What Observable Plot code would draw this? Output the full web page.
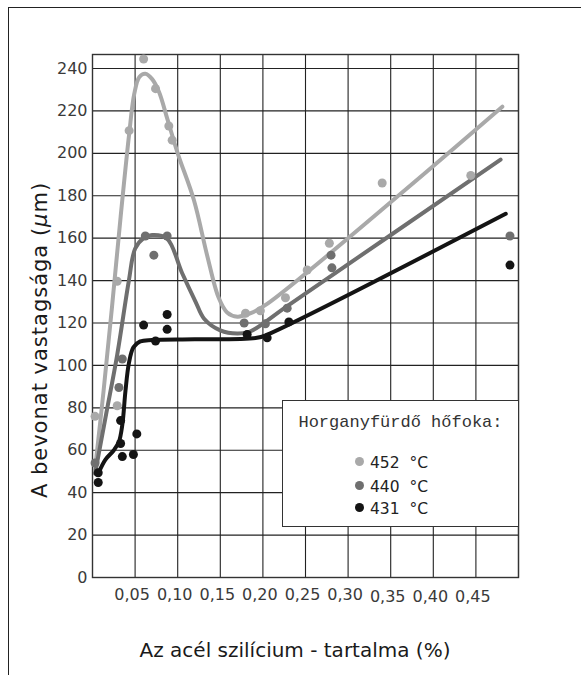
<!DOCTYPE html>
<html>
<head>
<meta charset="utf-8">
<script src="https://cdn.jsdelivr.net/npm/d3@7"></script>
<script src="https://cdn.jsdelivr.net/npm/@observablehq/plot@0.6"></script>
<style>
  html, body { margin: 0; padding: 0; background: #fff; }
  #wrap { position: relative; width: 581px; height: 675px; overflow: hidden; font-family: "DejaVu Sans", sans-serif; color: #222; }
  #border { position: absolute; left: 8px; top: 7px; width: 580px; height: 670px; border-left: 1.5px solid #222; border-top: 1.5px solid #222; }
  #chart { position: absolute; left: 0; top: 0; }
  .lbl { position: absolute; white-space: nowrap; color: #1a1a1a; transform: translate(-50%, -50%); }
  #ylab { left: 40px; top: 340px; font-size: 21px; letter-spacing: 1px; transform: translate(-50%, -50%) rotate(-90deg); }
  #xlab { left: 295px; top: 650px; font-size: 20px; }
  #legend { position: absolute; left: 282px; top: 400px; width: 237px; height: 127px; box-sizing: border-box; border: 1.3px solid #333; background: #fff; }
  #legend .title { position: absolute; left: 0; top: 12px; width: 100%; text-align: center; font-family: "Liberation Mono", "DejaVu Sans Mono", monospace; font-size: 17px; color: #333; }
  #legend .item { position: absolute; left: 72px; height: 20px; line-height: 20px; font-size: 15.5px; color: #222; white-space: pre; }
  #legend .dot { display: inline-block; width: 9px; height: 9px; border-radius: 50%; margin-right: 6px; vertical-align: middle; position: relative; top: -2px; }
</style>
</head>
<body>
<div id="wrap">
  <div id="border"></div>
  <div id="chart"></div>
  <div class="lbl" id="ylab">A bevonat vastagsága (<i>μ</i>m)</div>
  <div class="lbl" id="xlab">Az acél szilícium - tartalma (%)</div>
  <div id="legend"></div>
</div>
<script>
// ---- data ----
const seriesNames = ["452  °C", "440  °C", "431  °C"];
const seriesColors = ["#a9a9a9", "#6f6f6f", "#141414"];
const legendTitle = "Horganyfürdő hőfoka:";

const yTicks = [0, 20, 40, 60, 80, 100, 120, 140, 160, 180, 200, 220, 240];
const xGrid = [0.05, 0.10, 0.15, 0.20, 0.25, 0.30, 0.35, 0.40, 0.45, 0.50];
const xTicksA = [0.05, 0.10, 0.15, 0.20, 0.25, 0.30];
const xTicksB = [0.35, 0.40, 0.45];

// measured points [Si %, thickness µm]
const points452 = [[0.003, 76], [0.029, 81], [0.029, 139.7], [0.043, 210.7], [0.060, 244.5], [0.074, 230.5],
  [0.0896, 212.9], [0.0935, 206.2], [0.1796, 124.6], [0.197, 125.8], [0.2265, 131.9], [0.252, 145],
  [0.278, 157.6], [0.340, 186], [0.444, 189.6]];
const points440 = [[0.003, 54], [0.031, 89.6], [0.035, 103], [0.062, 161], [0.0876, 161], [0.072, 152],
  [0.178, 120], [0.203, 119.6], [0.2285, 127], [0.280, 152], [0.281, 146], [0.490, 161]];
const points431 = [[0.0067, 49.4], [0.0067, 44.8], [0.033, 74], [0.033, 63.2], [0.035, 57], [0.048, 58],
  [0.052, 67.7], [0.060, 119], [0.074, 111.5], [0.0876, 124], [0.0876, 117], [0.1815, 114.6],
  [0.205, 113], [0.2305, 120.5], [0.490, 147.3]];

// fitted curves
const curve452 = [[0.003, 51], [0.013, 88], [0.023, 128], [0.033, 170], [0.043, 209], [0.049, 228], [0.055, 236],
  [0.062, 237.5], [0.070, 235], [0.078, 229], [0.088, 216], [0.100, 200], [0.119, 178], [0.1345, 152],
  [0.148, 132], [0.158, 125], [0.170, 123], [0.185, 124.5], [0.205, 129], [0.481, 222]];
const curve440 = [[0.003, 49], [0.016, 77], [0.029, 105], [0.0427, 140], [0.050, 155], [0.060, 160], [0.070, 161.5],
  [0.0876, 159.7], [0.105, 143.7], [0.121, 130], [0.131, 122], [0.150, 116.5], [0.170, 115], [0.185, 116],
  [0.2285, 128], [0.479, 197]];
const curve431 = [[0.0067, 49], [0.015, 55.5], [0.025, 60], [0.031, 64], [0.035, 72], [0.0387, 88], [0.0427, 101],
  [0.048, 108.5], [0.056, 111.3], [0.070, 112], [0.120, 112.3], [0.193, 113], [0.205, 114.5], [0.485, 171.5]];

const curves = [curve452, curve440, curve431];
const pointSets = [points452, points440, points431];
const fmt = d => d.toFixed(2).replace(".", ",");

const marks = [
  Plot.gridY(yTicks, {stroke: "#222", strokeOpacity: 1, strokeWidth: 1.1}),
  Plot.gridX(xGrid, {stroke: "#222", strokeOpacity: 1, strokeWidth: 1.1}),
  Plot.frame({stroke: "#333", strokeWidth: 1.4}),
  Plot.axisY(yTicks, {tickSize: 0, tickPadding: 5, fontSize: 16, fill: "#3a3a3a", label: null}),
  Plot.axisX(xTicksA, {tickSize: 0, tickPadding: 11, fontSize: 16, fill: "#3a3a3a", dx: -3, tickFormat: fmt, label: null}),
  Plot.axisX(xTicksB, {tickSize: 0, tickPadding: 13, fontSize: 16, fill: "#3a3a3a", dx: -3, tickFormat: fmt, label: null})
];
curves.forEach((c, i) => {
  marks.push(Plot.line(c, {x: d => d[0], y: d => d[1], stroke: seriesColors[i], strokeWidth: 4, curve: "catmull-rom"}));
});
pointSets.forEach((p, i) => {
  marks.push(Plot.dot(p, {x: d => d[0], y: d => d[1], fill: seriesColors[i], r: 4.5}));
});

const chart = Plot.plot({
  width: 581,
  height: 675,
  marginLeft: 92,
  marginRight: 63,
  marginTop: 54,
  marginBottom: 98,
  x: {domain: [0, 0.5]},
  y: {domain: [0, 246.6]},
  style: {fontFamily: "'DejaVu Sans', sans-serif", background: "transparent", color: "#333"},
  marks
});
document.getElementById("chart").appendChild(chart);

// legend
const leg = document.getElementById("legend");
const t = document.createElement("div");
t.className = "title";
t.textContent = legendTitle;
leg.appendChild(t);
const itemTops = [52, 76, 98];
seriesNames.forEach((name, i) => {
  const it = document.createElement("div");
  it.className = "item";
  it.style.top = itemTops[i] + "px";
  const dot = document.createElement("span");
  dot.className = "dot";
  dot.style.background = seriesColors[i];
  it.appendChild(dot);
  it.appendChild(document.createTextNode(name));
  leg.appendChild(it);
});
</script>
</body>
</html>
